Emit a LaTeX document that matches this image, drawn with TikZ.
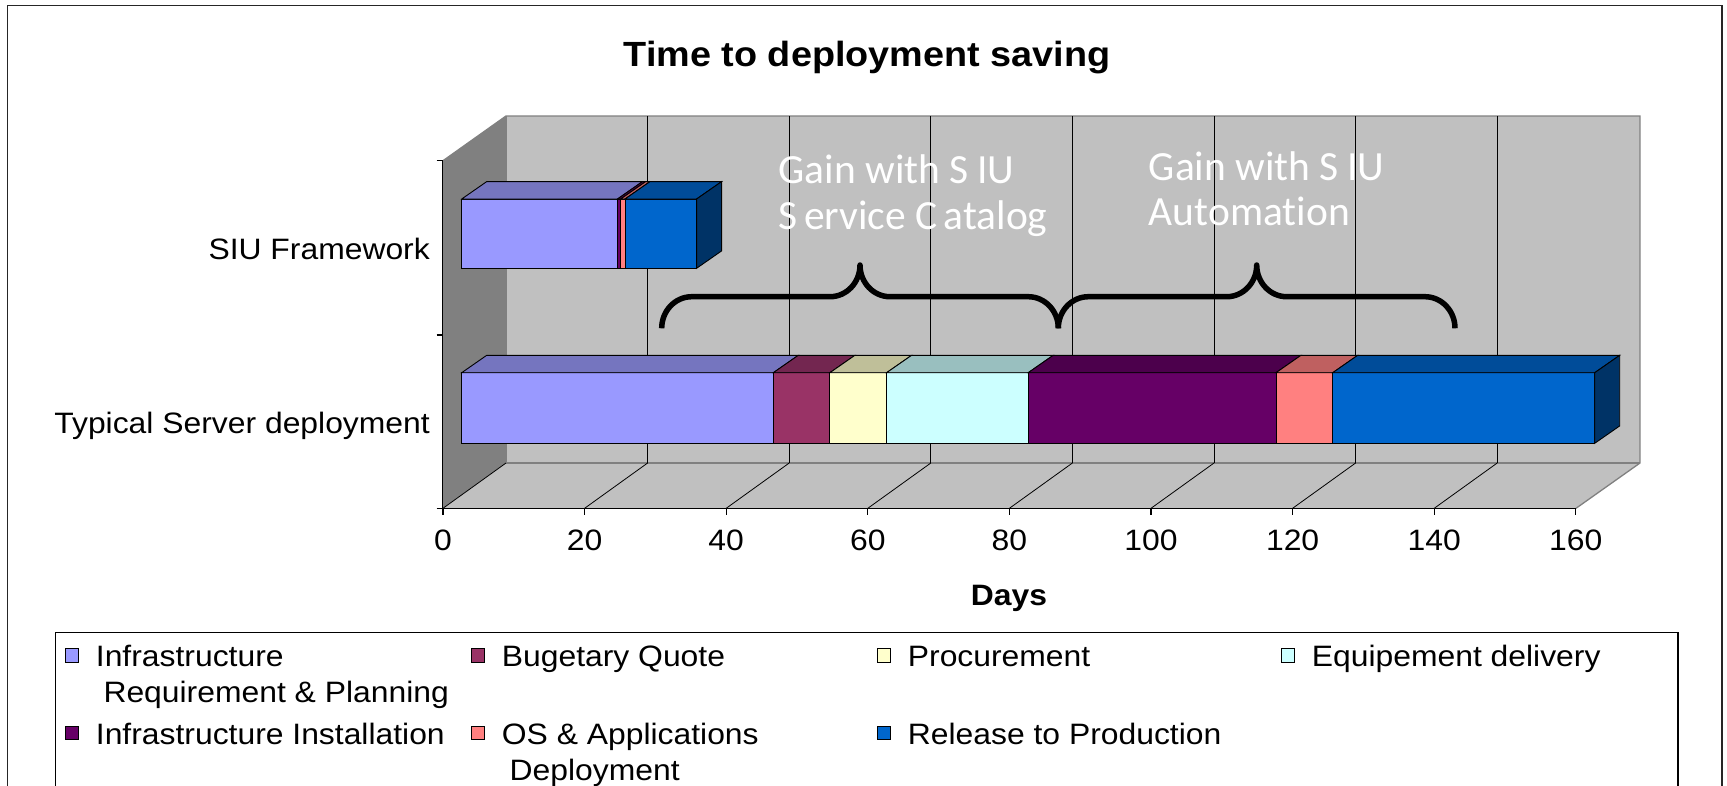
\documentclass[tikz,border=0pt]{standalone}
\usepackage{fontspec}
\setmainfont{Liberation Sans}[FakeStretch=1.08]
\newfontfamily\gainfont{Carlito}[Ligatures=NoCommon]
\definecolor{infraF}{HTML}{9999FF}\definecolor{infraT}{HTML}{7575BF}
\definecolor{budgF}{HTML}{993366}\definecolor{budgT}{HTML}{732650}
\definecolor{procF}{HTML}{FFFFCC}\definecolor{procT}{HTML}{BFBF99}
\definecolor{equiF}{HTML}{CCFFFF}\definecolor{equiT}{HTML}{99BFBF}
\definecolor{instF}{HTML}{660066}\definecolor{instT}{HTML}{4C004C}
\definecolor{osF}{HTML}{FF8080}\definecolor{osT}{HTML}{BF6060}
\definecolor{relF}{HTML}{0066CC}\definecolor{relT}{HTML}{004C99}\definecolor{relS}{HTML}{003366}
\definecolor{wallback}{HTML}{C0C0C0}\definecolor{wallside}{HTML}{808080}
\newcommand\drawseg[6]{%
  \filldraw[segline, fill=#5] (#1,#3) rectangle (#2,#4);
  \filldraw[segline, fill=#6] (#1,#3) -- (#1+25,#3-17.4) -- (#2+25,#3-17.4) -- (#2,#3) -- cycle;}
\begin{document}
\begin{tikzpicture}[x=1pt,y=-1pt,
  segline/.style={draw=black, line width=0.9},
  edgegray/.style={draw=wallside, line width=1.3},
  grid/.style={draw=black, line width=0.8},
  axisline/.style={draw=black, line width=1.3},
  brace/.style={draw=black, line width=5.5, line join=round},
  txt/.style={inner sep=0pt, font=\fontsize{29.5}{34}\selectfont},
  gain/.style={inner sep=0pt, text=white, font=\gainfont\fontsize{41.5}{46}\selectfont},
  legsq/.style={draw=black, line width=1}]
\useasboundingbox (0,0) rectangle (1727,785);
\clip (0,0) rectangle (1727,785);
% outer frame
\draw[draw=black!85, line width=1.6] (7.5,5.5) rectangle (1722,820);
% back wall
\fill[wallback] (506,116) rectangle (1640,463);
% side wall
\fill[wallside] (443,160.7) -- (506,116) -- (506,463) -- (443,508.3) -- cycle;
% floor
\fill[wallback] (443,508.3) -- (506,463) -- (1640,463) -- (1576,508.3) -- cycle;
% wall edges
\draw[edgegray] (443,160.7) -- (506,116) -- (1640,116) -- (1640,463) -- (1576,508.3);
\draw[edgegray] (506,116) -- (506,463) -- (1640,463);
% gridlines on back wall and floor
\foreach \k in {1,...,7} {
  \draw[grid] (506+141.6*\k,116) -- (506+141.6*\k,463);
}
\foreach \k in {0,...,7} {
  \draw[grid] (443+141.6*\k,508.3) -- (506+141.6*\k,463);
}
% axes
\draw[axisline] (442.7,160.7) -- (442.7,508.3) -- (1576,508.3);
\foreach \y in {160.7,335,508.3} { \draw[axisline] (436.5,\y) -- (442.7,\y); }
\foreach \k in {0,...,8} { \draw[axisline] (443+141.6*\k,508.3) -- (443+141.6*\k,514.5); }
% tick labels
\foreach \k/\v in {0/0,1/20,2/40,3/60,4/80,5/100,6/120,7/140,8/160} {
  \node[txt, anchor=base] (tick\k) at (443+141.6*\k,550.5) {\v};
}
% braces
\draw[brace] (661.7,328.3) .. controls (661.7,310.9) and (675.1,296.7) .. (691.7,296.7)
  -- (830,296.7) .. controls (846.6,296.7) and (860,282.5) .. (860,265)
  .. controls (860,282.5) and (873.4,296.7) .. (890,296.7)
  -- (1028.3,296.7) .. controls (1044.9,296.7) and (1058.3,310.9) .. (1058.3,328.3);
\draw[brace] (1058.3,328.3) .. controls (1058.3,310.9) and (1071.7,296.7) .. (1088.3,296.7)
  -- (1226.7,296.7) .. controls (1243.3,296.7) and (1256.7,282.5) .. (1256.7,265)
  .. controls (1256.7,282.5) and (1270.1,296.7) .. (1286.7,296.7)
  -- (1425,296.7) .. controls (1441.6,296.7) and (1455,310.9) .. (1455,328.3);
% gain texts
\node[gain, anchor=base west] (g1a) at (778.6,183.3) {Gain with S\hspace{0.2em}IU};
\node[gain, anchor=base west] (g1b) at (778.6,229.3) {S\hspace{0.15em}ervice C\hspace{0.15em}atalog};
\node[gain, anchor=base west] (g2a) at (1148.7,180) {Gain with S\hspace{0.2em}IU};
\node[gain, anchor=base west] (g2b) at (1148.7,225) {Automation};
% Typical Server deployment bar
\drawseg{461.7}{773.3}{372.7}{443.3}{infraF}{infraT}
\drawseg{773.3}{829.9}{372.7}{443.3}{budgF}{budgT}
\drawseg{829.9}{886.6}{372.7}{443.3}{procF}{procT}
\drawseg{886.6}{1028.2}{372.7}{443.3}{equiF}{equiT}
\drawseg{1028.2}{1276.0}{372.7}{443.3}{instF}{instT}
\drawseg{1276.0}{1332.7}{372.7}{443.3}{osF}{osT}
\drawseg{1332.7}{1594.7}{372.7}{443.3}{relF}{relT}
\filldraw[segline, fill=relS] (1594.7,372.7) -- (1619.7,355.3) -- (1619.7,425.9) -- (1594.7,443.3) -- cycle;
% SIU Framework bar
\drawseg{461.7}{617.5}{199}{268.3}{infraF}{infraT}
\drawseg{617.5}{620.7}{199}{268.3}{instF}{instT}
\drawseg{620.7}{625.0}{199}{268.3}{osF}{osT}
\drawseg{625.0}{696.6}{199}{268.3}{relF}{relT}
\filldraw[segline, fill=relS] (696.6,199) -- (721.6,181.6) -- (721.6,250.9) -- (696.6,268.3) -- cycle;
% category labels
\node[txt, anchor=base east] (catsiu) at (430,259) {SIU Framework};
\node[txt, anchor=base east] (cattyp) at (430,433.3) {Typical Server deployment};
% title and axis title
\node[inner sep=0pt, anchor=base, font=\bfseries\fontsize{35}{40}\selectfont] (title) at (867,66) {Time to deployment saving};
\node[txt, anchor=base, font=\bfseries\fontsize{29.5}{34}\selectfont] (days) at (1009,605.5) {Days};
% legend
\draw[draw=black, line width=1.3] (55.7,632.7) rectangle (1678,820);
\filldraw[legsq, fill=infraF] (65,648.5) rectangle (78.5,662);
\node[txt, anchor=base west] (l1a) at (95.7,666) {Infrastructure};
\node[txt, anchor=base west] (l1b) at (103.3,702) {Requirement \& Planning};
\filldraw[legsq, fill=budgF] (471,648.5) rectangle (484.5,662);
\node[txt, anchor=base west] (l2) at (501.7,666) {Bugetary Quote};
\filldraw[legsq, fill=procF] (877,648.5) rectangle (890.5,662);
\node[txt, anchor=base west] (l3) at (907.7,666) {Procurement};
\filldraw[legsq, fill=equiF] (1281,648.5) rectangle (1294.5,662);
\node[txt, anchor=base west] (l4) at (1311.7,666) {Equipement delivery};
\filldraw[legsq, fill=instF] (65,726) rectangle (78.5,739.5);
\node[txt, anchor=base west] (l5) at (95.7,744.5) {Infrastructure Installation};
\filldraw[legsq, fill=osF] (471,726) rectangle (484.5,739.5);
\node[txt, anchor=base west] (l6a) at (501.7,744.5) {OS \& Applications};
\node[txt, anchor=base west] (l6b) at (509.5,780.5) {Deployment};
\filldraw[legsq, fill=relF] (877,726) rectangle (890.5,739.5);
\node[txt, anchor=base west] (l7) at (907.7,744.5) {Release to Production};
\end{tikzpicture}
\end{document}
